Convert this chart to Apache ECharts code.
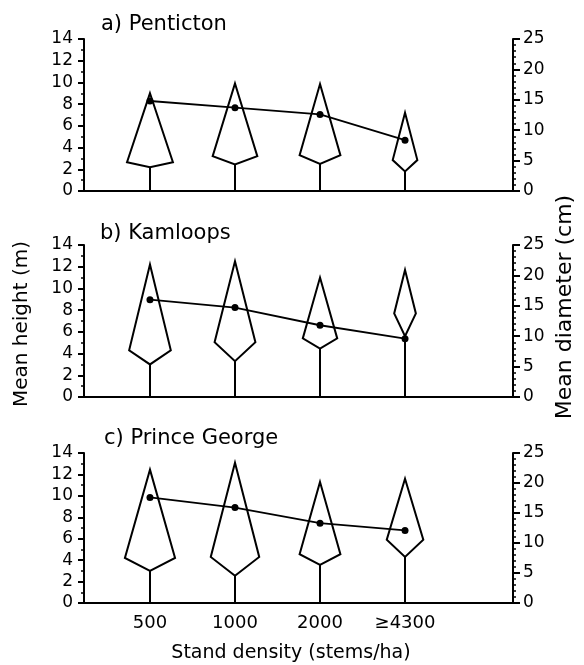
<!DOCTYPE html>
<html>
<head>
<meta charset="utf-8">
<script src="https://cdn.jsdelivr.net/npm/echarts@6/dist/echarts.min.js"></script>
<style>
html,body{margin:0;padding:0;background:#fff;}
#chart{width:584px;height:665px;}
</style>
</head>
<body>
<div id="chart"></div>
<script>
// ---- data ----
const categories = ['500', '1000', '2000', '≥4300'];
const siteTitles = ['a) Penticton', 'b) Kamloops', 'c) Prince George'];

// Penticton
const pentictonTreeHeight   = [9.0, 9.9, 9.85, 7.2];
const pentictonCrownWidest  = [2.65, 3.2, 3.3, 2.85];
const pentictonCrownBase    = [2.2, 2.45, 2.5, 1.8];
const pentictonCrownWidth   = [0.54, 0.525, 0.48, 0.29];
const pentictonDiameter     = [14.8, 13.7, 12.6, 8.35];

// Kamloops
const kamloopsTreeHeight    = [12.2, 12.5, 11.0, 11.7];
const kamloopsCrownWidest   = [4.3, 5.05, 5.4, 7.7];
const kamloopsCrownBase     = [3.0, 3.3, 4.45, 5.6];
const kamloopsCrownWidth    = [0.49, 0.48, 0.405, 0.255];
const kamloopsDiameter      = [16.0, 14.7, 11.8, 9.6];

// Prince George
const pgTreeHeight          = [12.45, 13.1, 11.3, 11.6];
const pgCrownWidest         = [4.2, 4.3, 4.55, 5.9];
const pgCrownBase           = [3.0, 2.55, 3.55, 4.3];
const pgCrownWidth          = [0.59, 0.57, 0.48, 0.43];
const pgDiameter            = [17.6, 15.9, 13.3, 12.1];

const heightAxis = {min: 0, max: 14, interval: 2};
const diameterAxis = {min: 0, max: 25, interval: 5};

// ---- chart ----
const sites = [
  {h: pentictonTreeHeight, w: pentictonCrownWidest, b: pentictonCrownBase, cw: pentictonCrownWidth, d: pentictonDiameter},
  {h: kamloopsTreeHeight, w: kamloopsCrownWidest, b: kamloopsCrownBase, cw: kamloopsCrownWidth, d: kamloopsDiameter},
  {h: pgTreeHeight, w: pgCrownWidest, b: pgCrownBase, cw: pgCrownWidth, d: pgDiameter}
];

const FONT = 'DejaVu Sans';
const grids = [
  {left: 84, right: 71, top: 39, height: 152},
  {left: 84, right: 71, top: 245, height: 152},
  {left: 84, right: 71, top: 453, height: 150}
];

function renderTree(params, api) {
  const x = api.value(0), top = api.value(1), widest = api.value(2), base = api.value(3), hw = api.value(4) / 2;
  const pTop = api.coord([x, top]);
  const pL = api.coord([x - hw, widest]);
  const pR = api.coord([x + hw, widest]);
  const pB = api.coord([x, base]);
  const p0 = api.coord([x, 0]);
  return {
    type: 'group',
    children: [
      {type: 'polygon', shape: {points: [pTop, pR, pB, pL]}, style: {fill: 'none', stroke: '#000', lineWidth: 2, lineJoin: 'miter'}},
      {type: 'line', shape: {x1: pB[0], y1: pB[1], x2: p0[0], y2: p0[1]}, style: {stroke: '#000', lineWidth: 2}}
    ]
  };
}

const xAxes = [], yAxes = [], series = [], graphics = [];
sites.forEach((s, i) => {
  xAxes.push({
    type: 'value', gridIndex: i, min: -0.776, max: 4.27,
    axisLine: {show: true, onZero: false, lineStyle: {color: '#000', width: 2}},
    axisTick: {show: false},
    splitLine: {show: false},
    axisLabel: i === 2 ? {
      show: true, customValues: [0, 1, 2, 3], formatter: v => categories[Math.round(v)],
      color: '#000', fontFamily: FONT, fontSize: 18, margin: 11
    } : {show: false}
  });
  yAxes.push({
    type: 'value', gridIndex: i, position: 'left', min: heightAxis.min, max: heightAxis.max, interval: heightAxis.interval,
    axisLine: {show: true, onZero: false, lineStyle: {color: '#000', width: 2}},
    axisTick: {show: true, length: 6, lineStyle: {color: '#000', width: 2}},
    minorTick: {show: true, splitNumber: 2, length: 3, lineStyle: {color: '#000', width: 1.5}},
    splitLine: {show: false},
    axisLabel: {color: '#000', fontFamily: FONT, fontSize: 17, margin: 11}
  });
  yAxes.push({
    type: 'value', gridIndex: i, position: 'right', min: diameterAxis.min, max: diameterAxis.max, interval: diameterAxis.interval,
    axisLine: {show: true, onZero: false, lineStyle: {color: '#000', width: 2}},
    axisTick: {show: true, length: 7, lineStyle: {color: '#000', width: 2}},
    minorTick: {show: true, splitNumber: 5, length: 3, lineStyle: {color: '#000', width: 1.5}},
    splitLine: {show: false},
    axisLabel: {color: '#000', fontFamily: FONT, fontSize: 17, margin: 10}
  });
  series.push({
    type: 'custom', xAxisIndex: i, yAxisIndex: i * 2,
    renderItem: renderTree, clip: false,
    encode: {x: 0, y: [1, 2, 3]},
    data: categories.map((c, k) => [k, s.h[k], s.w[k], s.b[k], s.cw[k]])
  });
  series.push({
    type: 'line', xAxisIndex: i, yAxisIndex: i * 2 + 1,
    data: categories.map((c, k) => [k, s.d[k]]),
    symbol: 'circle', symbolSize: 7, showSymbol: true,
    lineStyle: {color: '#000', width: 1.8},
    itemStyle: {color: '#000'},
    z: 3
  });
});

const titleTops = [25, 234, 439];
const titleLefts = [101, 100, 104];
siteTitles.forEach((t, i) => {
  graphics.push({type: 'text', x: titleLefts[i], y: titleTops[i],
    style: {text: t, fontFamily: FONT, fontSize: 21, fill: '#000', align: 'left', verticalAlign: 'middle'}});
});
graphics.push({type: 'text', x: 22, y: 324, rotation: Math.PI / 2,
  style: {text: 'Mean height (m)', fontFamily: FONT, fontSize: 20, fill: '#000', align: 'center', verticalAlign: 'middle'}});
graphics.push({type: 'text', x: 565, y: 307, rotation: Math.PI / 2,
  style: {text: 'Mean diameter (cm)', fontFamily: FONT, fontSize: 22, fill: '#000', align: 'center', verticalAlign: 'middle'}});
graphics.push({type: 'text', x: 291, y: 653,
  style: {text: 'Stand density (stems/ha)', fontFamily: FONT, fontSize: 19, fill: '#000', align: 'center', verticalAlign: 'middle'}});

const chart = echarts.init(document.getElementById('chart'), null, {renderer: 'canvas'});
chart.setOption({
  animation: false,
  backgroundColor: '#fff',
  grid: grids,
  xAxis: xAxes,
  yAxis: yAxes,
  series: series,
  graphic: graphics
});
</script>
</body>
</html>
